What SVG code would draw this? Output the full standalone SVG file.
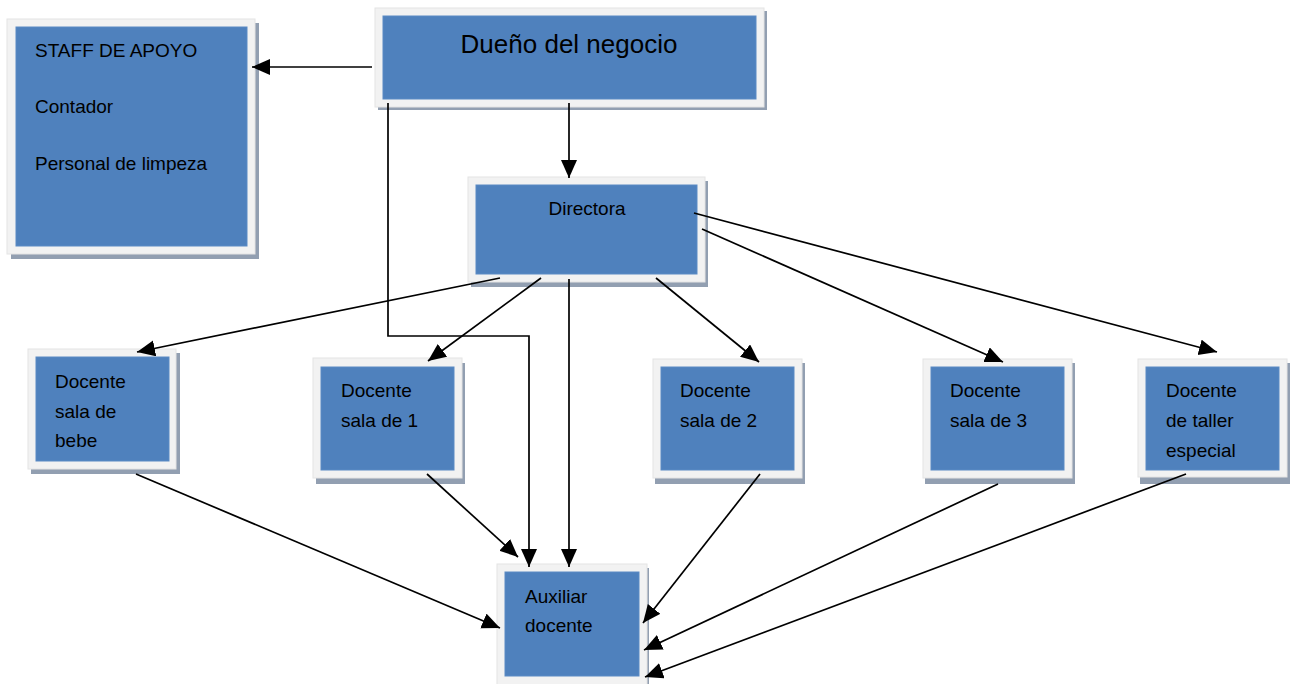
<svg xmlns="http://www.w3.org/2000/svg" width="1294" height="684" viewBox="0 0 1294 684">
<defs>
<style>
.sh{fill:#929fb1}
.fr{fill:#f2f2f2;stroke:#e4e4e4;stroke-width:1}
.bl{fill:#4f81bd;stroke:#5a8ac4;stroke-width:1}
.t{font-family:"Liberation Sans",Arial,sans-serif;font-size:19px;fill:#000}
.c{fill:none;stroke:#000;stroke-width:1.7}
</style>
<marker id="ah" markerUnits="userSpaceOnUse" markerWidth="20" markerHeight="18" refX="18" refY="8" orient="auto">
<path d="M0,0 L18,8 L0,16 z" fill="#000"/>
</marker>
</defs>
<rect width="1294" height="684" fill="#fff"/>

<g id="staff">
<rect class="sh" x="11" y="23" width="248" height="236"/>
<rect class="fr" x="7" y="19" width="248" height="235"/>
<rect class="bl" x="16" y="27" width="231" height="219"/>
<text class="t" x="35" y="57">STAFF DE APOYO</text>
<text class="t" x="35" y="113">Contador</text>
<text class="t" x="35" y="170">Personal de limpeza</text>
</g>

<g id="dueno">
<rect class="sh" x="378" y="11" width="389" height="99"/>
<rect class="fr" x="375" y="8" width="389" height="99"/>
<rect class="bl" x="383" y="16" width="373" height="83"/>
<text class="t" x="569" y="53" text-anchor="middle" style="font-size:26px">Dueño del negocio</text>
</g>

<g id="directora">
<rect class="sh" x="471" y="181" width="237" height="106"/>
<rect class="fr" x="468" y="177" width="237" height="105"/>
<rect class="bl" x="476" y="185" width="221" height="89"/>
<text class="t" x="587" y="215" text-anchor="middle">Directora</text>
</g>

<g id="bebe">
<rect class="sh" x="31" y="353" width="149" height="121"/>
<rect class="fr" x="28" y="349" width="148" height="120"/>
<rect class="bl" x="36" y="357" width="133" height="104"/>
<text class="t" x="55" y="388">Docente</text>
<text class="t" x="55" y="418">sala de</text>
<text class="t" x="55" y="447">bebe</text>
</g>

<g id="sala1">
<rect class="sh" x="316" y="363" width="149" height="121"/>
<rect class="fr" x="313" y="358" width="149" height="120"/>
<rect class="bl" x="321" y="367" width="133" height="103"/>
<text class="t" x="341" y="397">Docente</text>
<text class="t" x="341" y="427">sala de 1</text>
</g>

<g id="sala2">
<rect class="sh" x="655" y="363" width="150" height="121"/>
<rect class="fr" x="653" y="359" width="149" height="119"/>
<rect class="bl" x="661" y="367" width="133" height="103"/>
<text class="t" x="680" y="397">Docente</text>
<text class="t" x="680" y="427">sala de 2</text>
</g>

<g id="sala3">
<rect class="sh" x="925" y="363" width="150" height="121"/>
<rect class="fr" x="923" y="359" width="149" height="119"/>
<rect class="bl" x="931" y="367" width="133" height="103"/>
<text class="t" x="950" y="397">Docente</text>
<text class="t" x="950" y="427">sala de 3</text>
</g>

<g id="taller">
<rect class="sh" x="1140" y="363" width="150" height="121"/>
<rect class="fr" x="1138" y="359" width="149" height="118"/>
<rect class="bl" x="1146" y="367" width="133" height="103"/>
<text class="t" x="1166" y="397">Docente</text>
<text class="t" x="1166" y="427">de taller</text>
<text class="t" x="1166" y="457">especial</text>
</g>

<g id="auxiliar">
<rect class="sh" x="500" y="568" width="149" height="120"/>
<rect class="fr" x="497" y="564" width="150" height="124"/>
<rect class="bl" x="505" y="572" width="134" height="104"/>
<text class="t" x="525" y="603">Auxiliar</text>
<text class="t" x="525" y="632">docente</text>
</g>

<g id="connectors">
<line class="c" x1="372" y1="67" x2="252" y2="67" marker-end="url(#ah)"/>
<line class="c" x1="569" y1="103" x2="569" y2="178" marker-end="url(#ah)"/>
<polyline class="c" points="388,103 388,336 529,336 529,567" marker-end="url(#ah)"/>
<line class="c" x1="500" y1="278" x2="137" y2="352" marker-end="url(#ah)"/>
<line class="c" x1="541" y1="278" x2="428" y2="361" marker-end="url(#ah)"/>
<line class="c" x1="569" y1="279" x2="569" y2="567" marker-end="url(#ah)"/>
<line class="c" x1="656" y1="278" x2="759" y2="362" marker-end="url(#ah)"/>
<line class="c" x1="702" y1="229" x2="1003" y2="362" marker-end="url(#ah)"/>
<line class="c" x1="694" y1="213" x2="1217" y2="352" marker-end="url(#ah)"/>
<line class="c" x1="136" y1="474" x2="500" y2="628" marker-end="url(#ah)"/>
<line class="c" x1="427" y1="474" x2="518" y2="557" marker-end="url(#ah)"/>
<line class="c" x1="760" y1="474" x2="643" y2="623" marker-end="url(#ah)"/>
<line class="c" x1="998" y1="484" x2="644" y2="650" marker-end="url(#ah)"/>
<line class="c" x1="1186" y1="474" x2="645" y2="677" marker-end="url(#ah)"/>
</g>
</svg>
